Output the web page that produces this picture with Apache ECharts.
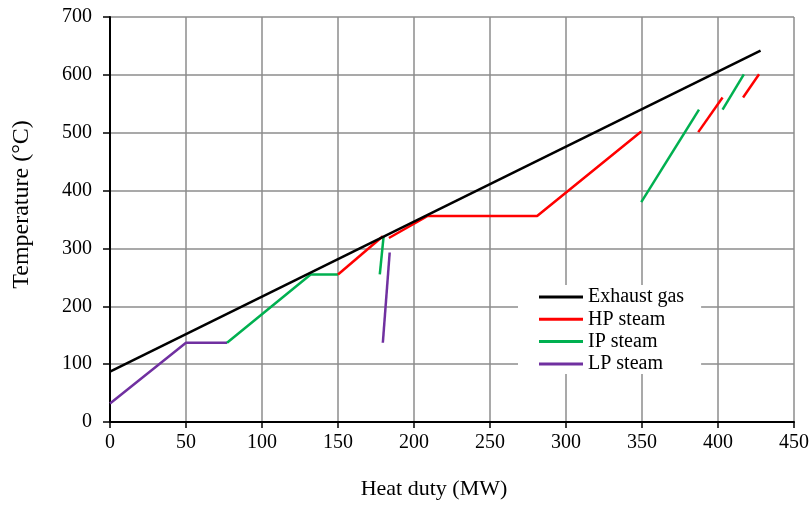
<!DOCTYPE html>
<html>
<head>
<meta charset="utf-8">
<script src="https://cdn.jsdelivr.net/npm/echarts@6/dist/echarts.min.js"></script>
<style>
  html, body { margin: 0; padding: 0; background: #fff; }
  #chart { width: 812px; height: 505px; }
</style>
</head>
<body>
<div id="chart"></div>
<script>
// Composite curves of the heat recovery steam generator: [heat duty MW, temperature °C]
const exhaustGas = [[[0, 87], [428, 642]]];
const hpSteam = [
  [[150, 255], [179.5, 321]],
  [[183.5, 318], [209, 356], [281, 356], [349.5, 502]],
  [[387, 501], [403, 561]],
  [[416.5, 561], [427, 601]]
];
const ipSteam = [
  [[77, 137], [132, 255], [150, 255]],
  [[177.5, 255], [180, 321]],
  [[349.5, 380], [387.5, 540]],
  [[403, 540], [417, 601]]
];
const lpSteam = [
  [[0, 32], [50, 137], [77, 137]],
  [[179.5, 137], [184, 293]]
];

const xTicks = { min: 0, max: 450, interval: 50 };
const yTicks = { min: 0, max: 700, interval: 100 };

const groups = [
  { name: 'Exhaust gas', color: '#000000', segs: exhaustGas, z: 5 },
  { name: 'HP steam', color: '#ff0000', segs: hpSteam, z: 4 },
  { name: 'IP steam', color: '#00b050', segs: ipSteam, z: 3 },
  { name: 'LP steam', color: '#7030a0', segs: lpSteam, z: 2 }
];

const series = [];
groups.forEach(g => {
  g.segs.forEach(seg => {
    series.push({
      name: g.name,
      type: 'line',
      data: seg,
      showSymbol: false,
      symbol: 'none',
      z: g.z,
      lineStyle: { color: g.color, width: 2.5 },
      itemStyle: { color: g.color },
      emphasis: { disabled: true },
      animation: false
    });
  });
});

const font = 'Liberation Serif';
const chart = echarts.init(document.getElementById('chart'), null, { renderer: 'canvas' });
chart.setOption({
  backgroundColor: '#ffffff',
  animation: false,
  grid: { left: 110, right: 17, top: 17, bottom: 82, containLabel: false },
  xAxis: {
    type: 'value',
    min: xTicks.min, max: xTicks.max, interval: xTicks.interval,
    name: 'Heat duty (MW)',
    nameLocation: 'middle',
    nameGap: 56,
    nameTextStyle: { fontFamily: font, fontSize: 22, color: '#000', padding: [0, 36, 0, 0] },
    axisLine: { onZero: false, lineStyle: { color: '#000', width: 2 } },
    axisTick: { show: true, length: 6, lineStyle: { color: '#000', width: 1.5 } },
    axisLabel: { fontFamily: font, fontSize: 20, color: '#000', margin: 11 },
    splitLine: { show: true, lineStyle: { color: '#8c8c8c', width: 1.5 } }
  },
  yAxis: {
    type: 'value',
    min: yTicks.min, max: yTicks.max, interval: yTicks.interval,
    name: 'Temperature (°C)',
    nameLocation: 'middle',
    nameGap: 76,
    nameRotate: 90,
    nameTextStyle: { fontFamily: font, fontSize: 24, color: '#000', padding: [0, 0, 0, 30] },
    axisLine: { show: true, onZero: false, lineStyle: { color: '#000', width: 2 } },
    axisTick: { show: true, length: 7, lineStyle: { color: '#000', width: 1.5 } },
    axisLabel: { fontFamily: font, fontSize: 20, color: '#000', margin: 18, padding: [3, 0, 0, 0] },
    splitLine: { show: true, lineStyle: { color: '#8c8c8c', width: 1.5 } }
  },
  legend: {
    data: groups.map(g => ({ name: g.name, icon: 'rect' })),
    orient: 'vertical',
    left: 518,
    top: 285,
    itemWidth: 44,
    itemHeight: 3,
    itemGap: 2.3,
    padding: [2, 17, 0, 21],
    backgroundColor: '#ffffff',
    selectedMode: false,
    textStyle: { fontFamily: font, fontSize: 20, lineHeight: 20, color: '#000' }
  },
  series: series
});
</script>
</body>
</html>
